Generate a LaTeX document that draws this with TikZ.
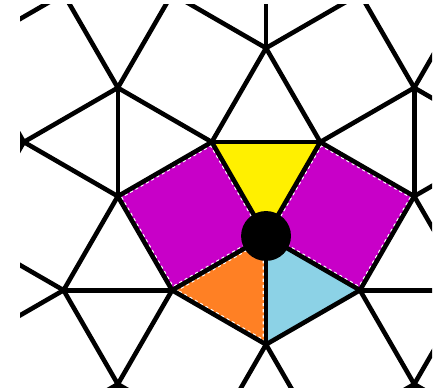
\documentclass[tikz,border=0pt]{standalone}
\usetikzlibrary{calc}
\definecolor{tilemag}{RGB}{200,0,200}
\definecolor{tileyel}{RGB}{255,240,0}
\definecolor{tileora}{RGB}{255,128,36}
\definecolor{tileblu}{RGB}{140,210,230}

\begin{document}
\begin{tikzpicture}[x=1cm,y=1cm,
    edge/.style={line width=1.2pt,line join=round},
    rim/.style={white,line width=1.8pt,dash pattern=on 0.8pt off 0.8pt}]
  \def\s{1.366}
  \useasboundingbox (-2.452,-1.419) rectangle (1.548,2.175);
  % tiles round the centre vertex
  \fill[tileyel] (0,0) -- (60:1) -- (120:1) -- cycle;
  \fill[tileblu] (0,0) -- (-30:1) -- (-90:1) -- cycle;
  \fill[tileora] (0,0) -- (-90:1) -- (-150:1) -- cycle;
  \fill[tilemag] (0,0) -- (60:1) -- (15:1.4142) -- (-30:1) -- cycle;
  \fill[tilemag] (0,0) -- (120:1) -- (165:1.4142) -- (-150:1) -- cycle;
  \begin{scope}
    \clip (0,0) -- (60:1) -- (15:1.4142) -- (-30:1) -- cycle;
    \draw[rim] (0,0) -- (60:1) -- (15:1.4142) -- (-30:1) -- cycle;
  \end{scope}
  \begin{scope}
    \clip (0,0) -- (120:1) -- (165:1.4142) -- (-150:1) -- cycle;
    \draw[rim] (0,0) -- (120:1) -- (165:1.4142) -- (-150:1) -- cycle;
  \end{scope}
  \begin{scope}
    \clip (0,0) -- (-90:1) -- (-150:1) -- cycle;
    \draw[rim] (0,0) -- (-90:1) -- (-150:1) -- cycle;
  \end{scope}
  \begin{scope}
    \clip (-2.267,-1.401) rectangle (1.530,2.138);
    % squares, two orientations
    \foreach \i in {-3,...,2}
      \foreach \j in {-2,...,2}{
        \pgfmathsetmacro\rot{mod(\i+\j+10,2)==0 ? 15 : -15}
        \pgfmathsetmacro\cx{0.683+\s*\i}
        \pgfmathsetmacro\cy{0.183+\s*\j}
        \draw[edge] (\cx,\cy) ++(\rot:0.7071) -- ++(\rot+135:1)
          -- ++(\rot+225:1) -- ++(\rot+315:1) -- cycle;
      }
    % edges between two triangles
    \foreach \p in {-3,...,2}
      \foreach \q in {-2,...,2}{
        \pgfmathsetmacro\ang{mod(\p+\q+10,2)==0 ? 0 : 90}
        \pgfmathsetmacro\gx{\s*\p}
        \pgfmathsetmacro\gy{0.866+\s*\q}
        \draw[edge] (\gx,\gy) ++(\ang:0.5) -- ++(\ang+180:1);
      }
  \end{scope}
  \node[circle,fill=black,inner sep=0pt,minimum size=0.46cm] (v) at (0,0) {};
\end{tikzpicture}
\end{document}
